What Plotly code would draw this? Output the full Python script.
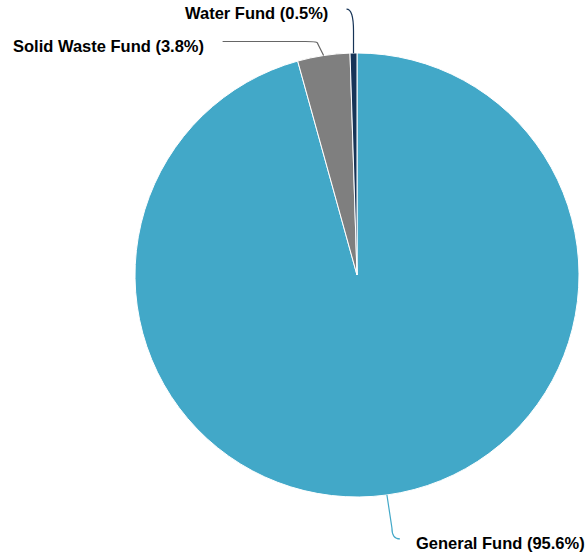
import math
import plotly.graph_objects as go

# ---- data ----
labels = ["General Fund", "Solid Waste Fund", "Water Fund"]
values = [95.6, 3.8, 0.5]
colors = ["#42a8c8", "#7f7f7f", "#173457"]

# ---- layout constants (pixels) ----
W, H = 586, 556
CX, CY, R = 357, 275, 222

def px(x):
    return x / W

def py(y):
    return 1 - y / H

fig = go.Figure()
fig.add_trace(go.Pie(
    labels=labels, values=values, sort=False, direction="clockwise", rotation=0,
    marker=dict(colors=colors, line=dict(color="#ffffff", width=1)),
    textinfo="none", hoverinfo="label+percent", showlegend=False,
    domain=dict(x=[px(CX - R), px(CX + R)], y=[py(CY + R), py(CY - R)]),
))

# connector geometry per label: radial stub and end offsets from the slice edge point
conn = {
    "General Fund": dict(stub=(5, 33), end=(13, 44), side="left", gap=14),
    "Solid Waste Fund": dict(stub=(-6, -12), end=(-101, -14), side="right", gap=17),
    "Water Fund": dict(stub=(0, -22), end=(-7, -44), side="right", gap=17),
}

total = sum(values)
cum = 0.0
shapes = []
annotations = []
for lab, val, col in zip(labels, values, colors):
    mid = (cum + val / 2) / total * 2 * math.pi
    cum += val
    ex = CX + R * math.sin(mid)
    ey = CY - R * math.cos(mid)
    c = conn[lab]
    sx, sy = ex + c["stub"][0], ey + c["stub"][1]
    tx, ty = ex + c["end"][0], ey + c["end"][1]
    if lab == "Solid Waste Fund":
        path = f"M {px(ex)},{py(ey)} L {px(sx)},{py(sy)} Q {px(sx+1)},{py(ty)} {px(sx-12)},{py(ty)} L {px(tx)},{py(ty)}"
    else:
        path = f"M {px(ex)},{py(ey)} L {px(sx)},{py(sy)} Q {px(sx)},{py(ty)} {px(tx)},{py(ty)}"
    shapes.append(dict(type="path", xref="paper", yref="paper", path=path,
                       line=dict(color=col if lab != "Solid Waste Fund" else "#666666", width=1.2)))
    text = f"<b>{lab} ({val:.1f}%)</b>"
    if c["side"] == "left":
        ax, anch = tx + c["gap"], "left"
    else:
        ax, anch = tx - c["gap"], "right"
    annotations.append(dict(x=px(ax), y=py(ty + 4), xref="paper", yref="paper", text=text,
                            showarrow=False, xanchor=anch, yanchor="middle",
                            font=dict(family="Liberation Sans, Arial, sans-serif", size=16.5, color="#000000")))

fig.update_layout(
    width=W, height=H, margin=dict(l=0, r=0, t=0, b=0),
    paper_bgcolor="#ffffff", plot_bgcolor="#ffffff",
    shapes=shapes, annotations=annotations,
)
fig.write_html("out.html")
